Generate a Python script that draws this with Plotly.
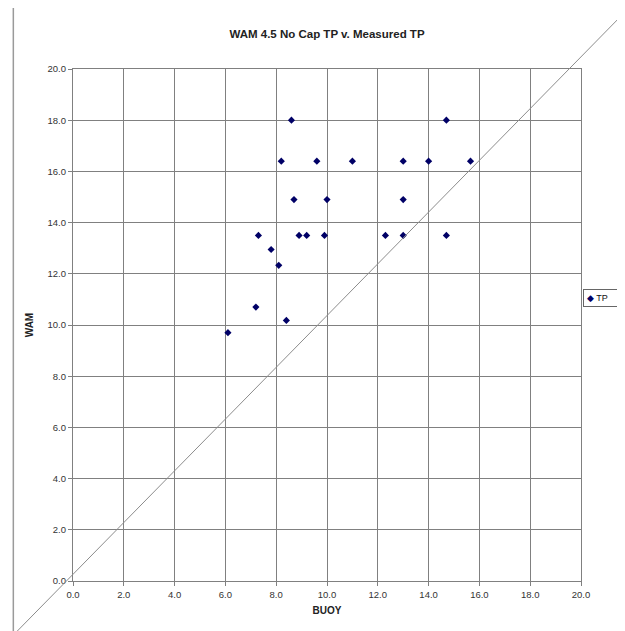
import plotly.graph_objects as go

# Data (BUOY vs WAM peak period)
buoy = [6.1, 7.2, 7.3, 7.8, 8.1, 8.2, 8.4, 8.6, 8.7, 8.9, 9.2, 9.6, 9.9, 10.0,
        11.0, 12.3, 13.0, 13.0, 13.0, 14.0, 14.7, 14.7, 15.65]
wam = [9.7, 10.7, 13.5, 12.95, 12.33, 16.4, 10.18, 18.0, 14.9, 13.5, 13.5, 16.4, 13.5, 14.9,
       16.4, 13.5, 16.4, 14.9, 13.5, 16.4, 18.0, 13.5, 16.4]
series_name = "TP"
tick_vals = [0, 2, 4, 6, 8, 10, 12, 14, 16, 18, 20]
tick_text = ["0.0", "2.0", "4.0", "6.0", "8.0", "10.0", "12.0", "14.0", "16.0", "18.0", "20.0"]

OFF = 8  # default body margin of the page
PW, PH = 625, 631
W, H = PW - OFF, PH - OFF
L, R, T, B = 72.7, 581.0, 69.0, 581.0   # plot area in page pixels
pw, ph = R - L, B - T

def px(x):
    return (x - L) / pw

def py(y):
    return (B - y) / ph

fig = go.Figure()
fig.add_trace(go.Scatter(
    x=buoy, y=wam, mode="markers", name=series_name,
    marker=dict(symbol="diamond", size=5.5, color="#000066"),
    cliponaxis=False, showlegend=False,
))

axis_common = dict(
    range=[0, 20], tickvals=tick_vals, ticktext=tick_text,
    showgrid=True, gridcolor="#808080", gridwidth=1.2,
    showline=True, linecolor="#808080", linewidth=1.2, mirror=True,
    ticks="outside", ticklen=4, tickcolor="#808080",
    tickfont=dict(family="Liberation Sans, Arial", size=9.5, color="#333333"),
    zeroline=False, fixedrange=True,
)

fig.update_xaxes(**axis_common,
                 title=dict(text="<b>BUOY</b>", font=dict(family="Liberation Sans, Arial", size=10, color="#222222"), standoff=8))
fig.update_yaxes(**axis_common,
                 title=dict(text="<b>WAM</b>", font=dict(family="Liberation Sans, Arial", size=10, color="#222222"), standoff=12))

shapes = [
    # chart area border (cropped at right/bottom in the reference)
    dict(type="rect", xref="paper", yref="paper",
         x0=px(13), x1=px(640), y0=py(645), y1=py(6),
         line=dict(color="#9a9a9a", width=1.5), layer="below"),
    # hand-drawn diagonal line
    dict(type="line", xref="paper", yref="paper",
         x0=px(17), y0=py(631), x1=px(627), y1=py(10),
         line=dict(color="#8c8c8c", width=1), layer="above"),
]

annotations = [
    dict(text="<span style='color:#000066'>◆</span> <span style='color:#111111'>" + series_name + "</span>   ",
         xref="paper", yref="paper", x=px(583), y=py(298),
         xanchor="left", yanchor="middle", showarrow=False,
         font=dict(family="Liberation Sans, Arial", size=9, color="#111111"),
         bordercolor="#666666", borderwidth=1, borderpad=3, bgcolor="white",
         align="left"),
]

fig.update_layout(
    width=W, height=H,
    margin=dict(l=L - OFF, r=PW - R, t=T - OFF, b=PH - B, autoexpand=False),
    paper_bgcolor="white", plot_bgcolor="white",
    title=dict(text="<b>WAM 4.5 No Cap TP v. Measured TP</b>",
               x=0.5, xref="paper", xanchor="center",
               y=1 - (34 - OFF) / H, yref="container", yanchor="middle",
               font=dict(family="Liberation Sans, Arial", size=11.5, color="#222222")),
    showlegend=False,
    shapes=shapes,
    annotations=annotations,
)

fig.write_html("out.html")
